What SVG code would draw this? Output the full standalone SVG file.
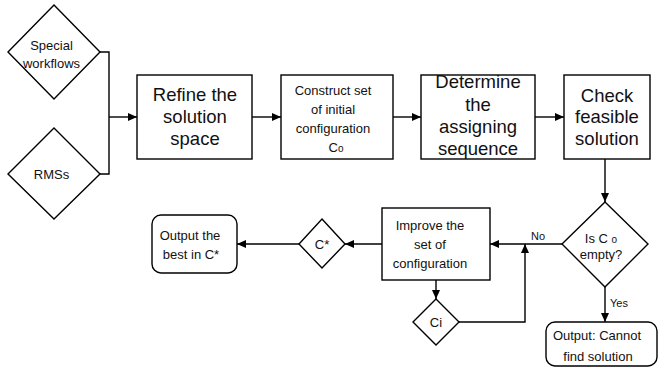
<svg xmlns="http://www.w3.org/2000/svg" width="658" height="371" viewBox="0 0 658 371">
<defs>
<marker id="ah" markerUnits="userSpaceOnUse" markerWidth="10" markerHeight="9" refX="9" refY="4" orient="auto">
<path d="M0,0 L9,4 L0,8 z" fill="#000"/>
</marker>
<style>
.s{fill:#fff;stroke:#000;stroke-width:1.4}
.c{fill:none;stroke:#000;stroke-width:1.4}
.a{marker-end:url(#ah)}
text{font-family:"Liberation Sans",Arial,sans-serif;fill:#111;text-anchor:middle}
.big{font-size:18.5px}
.sm{font-size:13px}
.xs{font-size:11px}
</style>
</defs>
<rect width="658" height="371" fill="#fff"/>
<g id="connectors">
<path class="c" d="M100,52 H109 V174 H100"/>
<path class="c a" d="M109,117 H137"/>
<path class="c a" d="M252,117 H281"/>
<path class="c a" d="M393,117 H421"/>
<path class="c a" d="M535,117 H564"/>
<path class="c a" d="M605,159 V202"/>
<path class="c a" d="M562,244 H490"/>
<path class="c a" d="M459,322 H525 V244"/>
<path class="c a" d="M436,280 V299"/>
<path class="c a" d="M382,244 H345"/>
<path class="c a" d="M299,244 H237"/>
<path class="c a" d="M605,287 V322"/>
<text class="xs" x="538" y="240">No</text>
<text class="xs" x="619" y="307">Yes</text>
</g>
<g id="special">
<polygon class="s" points="54,5 100,52 54,99 8,52"/>
<text class="sm" x="51.5" y="50">Special</text>
<text class="sm" x="51.5" y="68">workflows</text>
</g>
<g id="rms">
<polygon class="s" points="54,128 100,174 54,219 8,174"/>
<text class="sm" x="51.5" y="179">RMSs</text>
</g>
<g id="refine">
<rect class="s" x="137" y="75" width="115" height="84"/>
<text class="big" x="195" y="101">Refine the</text>
<text class="big" x="195" y="123">solution</text>
<text class="big" x="195" y="145">space</text>
</g>
<g id="construct">
<rect class="s" x="281" y="75" width="112" height="84"/>
<text class="sm" x="333" y="95">Construct set</text>
<text class="sm" x="333" y="114">of initial</text>
<text class="sm" x="333" y="133">configuration</text>
<text class="sm" x="336" y="152">C<tspan font-size="10">o</tspan></text>
</g>
<g id="determine">
<rect class="s" x="421" y="75" width="114" height="84"/>
<text class="big" x="478" y="88">Determine</text>
<text class="big" x="478" y="111">the</text>
<text class="big" x="478" y="133">assigning</text>
<text class="big" x="478" y="155">sequence</text>
</g>
<g id="check">
<rect class="s" x="564" y="75" width="86" height="84"/>
<text class="big" x="607" y="102">Check</text>
<text class="big" x="607" y="123">feasible</text>
<text class="big" x="607" y="145">solution</text>
</g>
<g id="isempty">
<polygon class="s" points="605,202 648,244 605,287 562,244"/>
<text class="sm" x="601" y="243">Is C <tspan font-size="10">o</tspan></text>
<text class="sm" x="601" y="259">empty?</text>
</g>
<g id="improve">
<rect class="s" x="382" y="208" width="108" height="72"/>
<text class="sm" x="430" y="230">Improve the</text>
<text class="sm" x="430" y="249">set of</text>
<text class="sm" x="430" y="268">configuration</text>
</g>
<g id="ci">
<polygon class="s" points="436,299 459,322 436,345 413,322"/>
<text class="sm" x="436" y="327">Ci</text>
</g>
<g id="cstar">
<polygon class="s" points="322,219 345,244 322,268 299,244"/>
<text class="sm" x="322" y="249">C*</text>
</g>
<g id="outbest">
<rect class="s" x="152" y="215" width="85" height="58" rx="9" ry="9"/>
<text class="sm" x="190" y="240">Output the</text>
<text class="sm" x="191" y="259">best in C*</text>
</g>
<g id="outcannot">
<rect class="s" x="546" y="322" width="111" height="44" rx="9" ry="9"/>
<text class="sm" x="597" y="340">Output: Cannot</text>
<text class="sm" x="598" y="361">find solution</text>
</g>
</svg>
